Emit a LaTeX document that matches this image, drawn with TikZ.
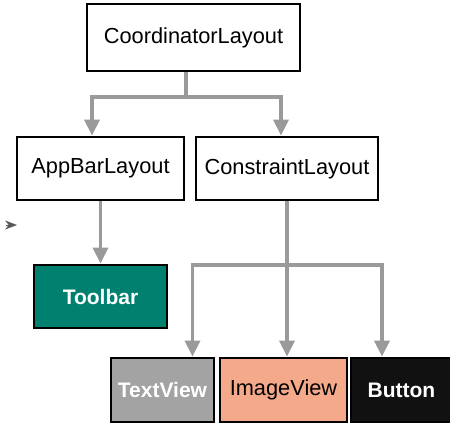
\documentclass[tikz,border=0pt]{standalone}
\usepackage{fontspec}
\setmainfont{Liberation Sans}
\usetikzlibrary{arrows.meta}
\definecolor{linegray}{HTML}{9A9A9A}
\definecolor{toolbarteal}{HTML}{00806E}
\definecolor{imagesalmon}{HTML}{F4A98A}
\definecolor{textgray}{HTML}{A3A3A3}
\definecolor{buttonblack}{HTML}{111111}
\begin{document}
\begin{tikzpicture}[x=0.5pt, y=-0.5pt,
        box/.style={draw=black, line width=1.4pt, inner sep=0pt, align=center,
            font=\fontsize{10.9}{12}\selectfont, minimum height=31.5pt},
        whitebox/.style={box, text=white, font=\fontsize{10.5}{12}\selectfont\bfseries},
        link/.style={draw=linegray, line width=1.7pt},
        arr/.style={link, -{Triangle[length=8pt, width=7.5pt]}}]
    \useasboundingbox (0,0) rectangle (450,424);

    \node[box, minimum width=106.5pt, minimum height=33.5pt] (coord) at (193.5,37.5) {CoordinatorLayout};
    \node[box, minimum width=83.5pt] (appbar) at (100.5,168.5) {AppBarLayout};
    \node[box, minimum width=91pt] (constraint) at (287,168.5) {ConstraintLayout};
    \node[whitebox, fill=toolbarteal, minimum width=66.5pt] (toolbar) at (100.5,296.5) {Toolbar};
    \node[whitebox, fill=textgray, minimum width=51.5pt, minimum height=32pt] (textview) at (162.5,390) {TextView};
    \node[box, fill=imagesalmon, minimum width=63.5pt, minimum height=32pt] (imageview) at (283.5,390) {ImageView};
    \node[whitebox, fill=buttonblack, minimum width=50.5pt, minimum height=32pt] (button) at (401.5,390) {Button};

    \coordinate (fork) at (186,97);
    \coordinate (forkl) at (92,97);
    \coordinate (forkr) at (281,97);
    \draw[arr] (coord.south -| fork) |- (forkl) -- (appbar.north -| forkl);
    \draw[arr] (coord.south -| fork) |- (forkr) -- (constraint.north -| forkr);

    \draw[arr] (appbar.south) -- (toolbar.north);

    \coordinate (cl) at (192.5,265);
    \coordinate (cr) at (382,265);
    \draw[arr] (constraint.south) -- (imageview.north -| constraint.south);
    \draw[arr] (constraint.south) |- (cl) -- (textview.north -| cl);
    \draw[arr] (constraint.south) |- (cr) -- (button.north -| cr);

    \coordinate (stub) at (17,225);
    \draw[draw=black!65, line width=0.3pt, -{Stealth[length=6pt, width=4.5pt]}] (6,225) -- (stub);
\end{tikzpicture}
\end{document}
